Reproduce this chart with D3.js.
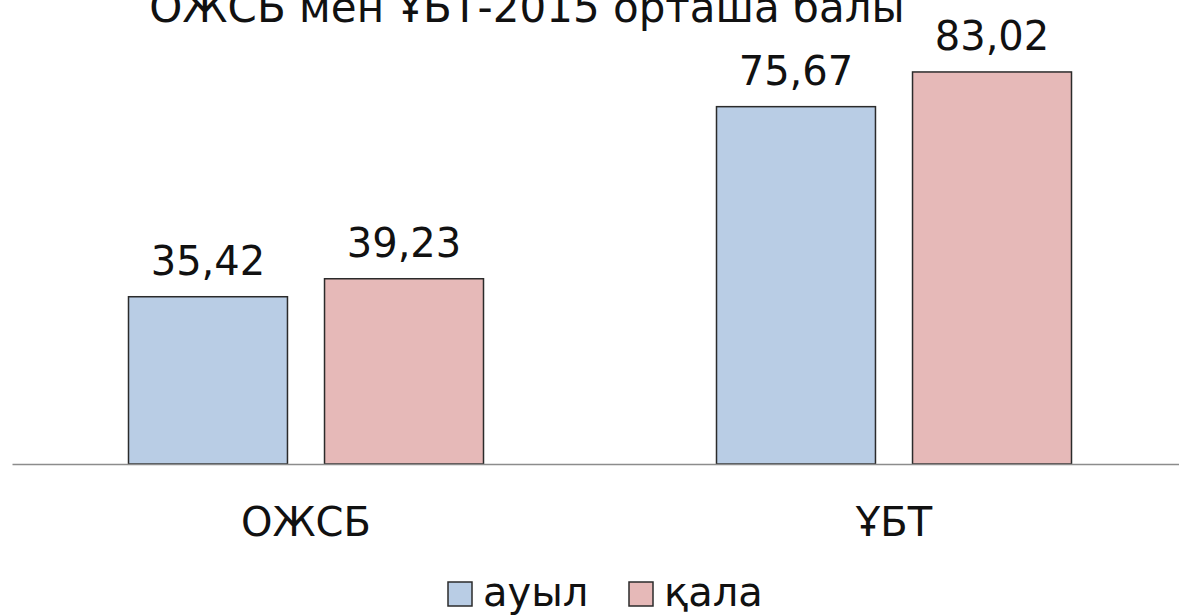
<!DOCTYPE html>
<html>
<head>
<meta charset="utf-8">
<script src="https://cdn.jsdelivr.net/npm/d3@7.9.0/dist/d3.min.js"></script>
<style>
  html, body { margin: 0; padding: 0; background: #fff; }
  svg { display: block; font-family: "DejaVu Sans", Verdana, sans-serif; }
</style>
</head>
<body>
<svg id="chart" width="1179" height="615"></svg>
<script>
const title = 'ОЖСБ мен ҰБТ-2015 орташа балы';
const categories = ['ОЖСБ', 'ҰБТ'];
const series = ['ауыл', 'қала'];
const values = {
  'ауыл': [35.42, 75.67],
  'қала': [39.23, 83.02],
};
const colors = ['#b9cde5', '#e6b9b8'];

const svg = d3.select('#chart');

const x0 = d3.scaleBand()
  .domain(categories)
  .range([12, 1188]);

const x1 = d3.scaleBand()
  .domain(series)
  .range([116.5, 471.5])
  .paddingInner(0.189);

const y = d3.scaleLinear()
  .domain([0, 90])
  .range([464, 39]);

const color = d3.scaleOrdinal().domain(series).range(colors);

const rows = categories.flatMap((c, i) =>
  series.map(s => ({ cat: c, ser: s, value: values[s][i] })));

const fmt = v => d3.format('.2f')(v).replace('.', ',');

// bars
svg.append('g')
  .selectAll('rect')
  .data(rows)
  .join('rect')
  .attr('x', d => x0(d.cat) + x1(d.ser))
  .attr('y', d => y(d.value))
  .attr('width', x1.bandwidth())
  .attr('height', d => y(0) - y(d.value))
  .attr('fill', d => color(d.ser))
  .attr('stroke', '#2b2b2b')
  .attr('stroke-width', 1.5);

// value labels
svg.append('g')
  .selectAll('text')
  .data(rows)
  .join('text')
  .attr('x', d => x0(d.cat) + x1(d.ser) + x1.bandwidth() / 2)
  .attr('y', d => y(d.value) - 22)
  .attr('text-anchor', 'middle')
  .attr('font-size', 40)
  .attr('fill', '#111')
  .text(d => fmt(d.value));

// x axis
const xAxis = svg.append('g')
  .attr('transform', `translate(0, ${y(0)})`)
  .call(d3.axisBottom(x0).tickSize(0).tickSizeOuter(0).tickPadding(44));
xAxis.select('.domain').attr('stroke', '#8c8c8c').attr('stroke-width', 1.5);
xAxis.selectAll('text')
  .attr('font-size', 40)
  .attr('font-family', '"DejaVu Sans", Verdana, sans-serif')
  .attr('fill', '#111');

// title (cut off at the top, as in the source)
svg.append('text')
  .attr('x', 527)
  .attr('y', 22)
  .attr('text-anchor', 'middle')
  .attr('font-size', 42)
  .attr('fill', '#111')
  .text(title);

// legend
const legendX = [448, 629];
const legend = svg.append('g')
  .selectAll('g')
  .data(series)
  .join('g')
  .attr('transform', (d, i) => `translate(${legendX[i]}, 582)`);

legend.append('rect')
  .attr('width', 24)
  .attr('height', 24)
  .attr('fill', d => color(d))
  .attr('stroke', '#2b2b2b')
  .attr('stroke-width', 1.5);

legend.append('text')
  .attr('x', 35)
  .attr('y', 24)
  .attr('font-size', 40)
  .attr('fill', '#111')
  .text(d => d);
</script>
</body>
</html>
